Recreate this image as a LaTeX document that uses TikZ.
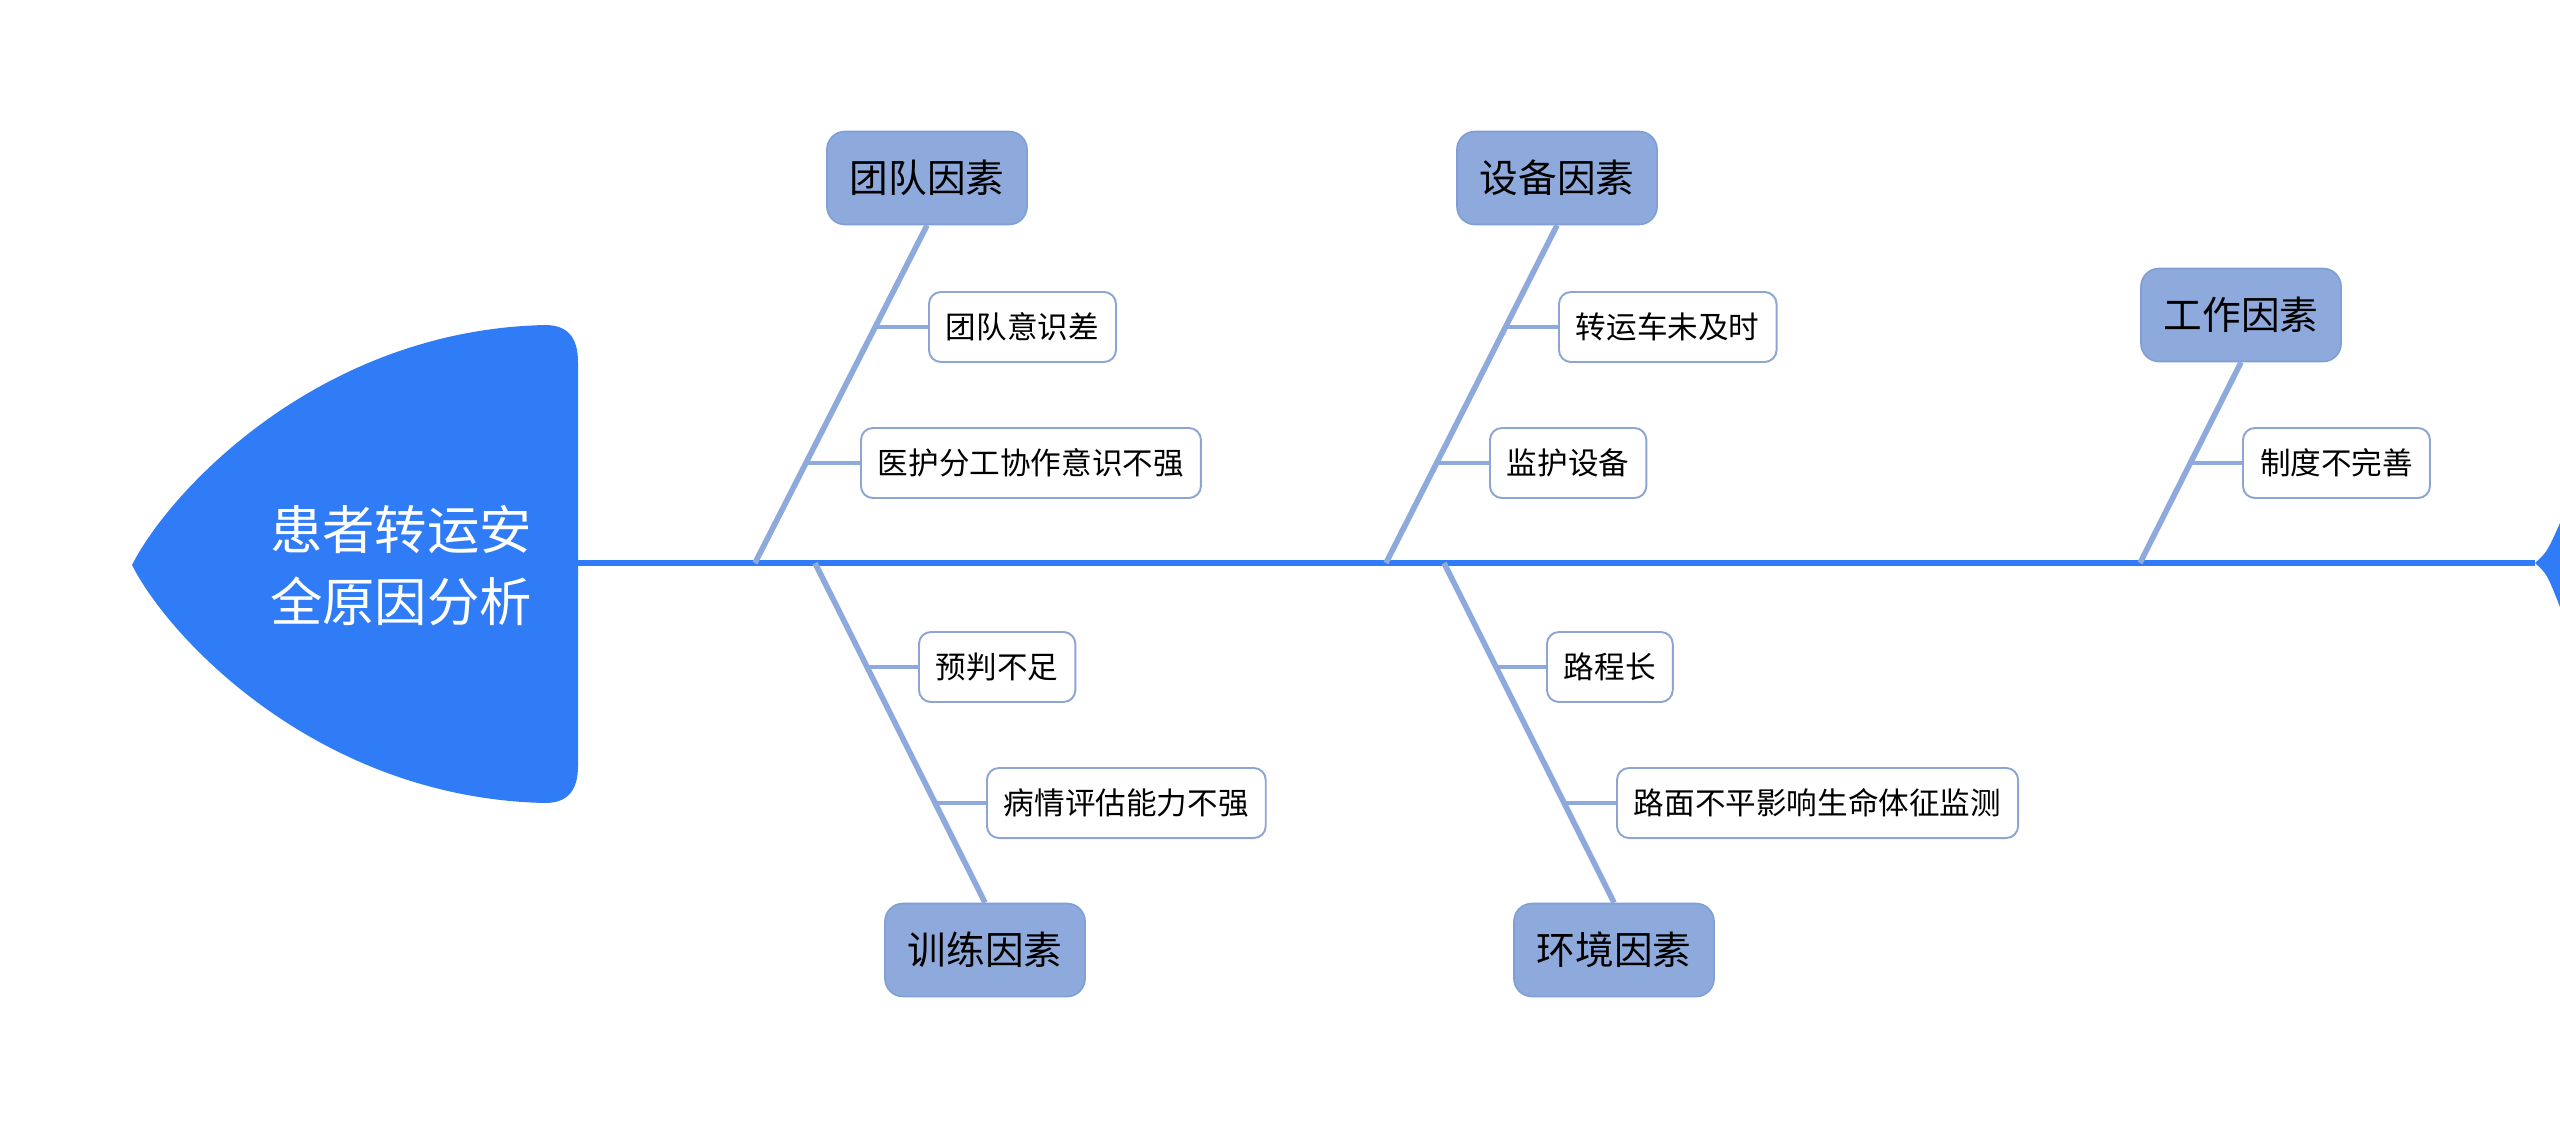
\documentclass[tikz,border=0pt]{standalone}
\usepackage{fontspec}
\setmainfont{Noto Sans CJK SC}
\usetikzlibrary{arrows.meta,positioning}
\definecolor{fishblue}{HTML}{2F7CF6}
\definecolor{bonecol}{HTML}{8EAADC}
\definecolor{boxedge}{HTML}{7F9ED6}
\definecolor{subedge}{HTML}{8CA5D3}

\begin{document}
\begin{tikzpicture}[x=0.01cm,y=-0.01cm,
  cause/.style={draw=boxedge,line width=0.45pt,fill=bonecol,rounded corners=0.18cm,
    minimum width=2cm,minimum height=0.93cm,font=\fontsize{11}{13}\selectfont},
  item/.style={draw=subedge,line width=0.55pt,fill=white,rounded corners=0.12cm,
    minimum height=0.70cm,inner xsep=0.17cm,anchor=west,font=\fontsize{8.7}{10}\selectfont},
  bone/.style={bonecol,line width=1.6pt},
  twig/.style={bonecol,line width=1.2pt}]
\useasboundingbox (0,0) rectangle (2560,1130);
\fill[fishblue] (132,565) .. controls (170,490) and (320,330) .. (545,325)
  .. controls (568,325) and (578,338) .. (578,362) -- (578,766)
  .. controls (578,790) and (568,803) .. (545,803)
  .. controls (320,798) and (170,640) .. (132,565) -- cycle;
\node[text=white,align=center,font=\fontsize{14.9}{20.5}\selectfont] (head) at (401,566) {患者转运安\\全原因分析};
\coordinate (spine-l) at (576,563);
\coordinate (spine-r) at (2535,563);
\draw[fishblue,line width=1.7pt] (spine-l) -- (spine-r);
\fill[fishblue] (spine-r) .. controls (2547,552) .. (2560,523) -- (2560,607)
  .. controls (2547,574) .. (spine-r) -- cycle;
\node[cause] (team) at (927,178) {团队因素};
\node[cause] (equip) at (1557,178) {设备因素};
\node[cause] (work) at (2241,315) {工作因素};
\node[cause] (train) at (985,950) {训练因素};
\node[cause] (env) at (1614,950) {环境因素};
\coordinate (team-s) at (755,563);
\coordinate (equip-s) at (1386,563);
\coordinate (work-s) at (2140,563);
\coordinate (train-s) at (815,563);
\coordinate (env-s) at (1444,563);
\foreach \c in {team,equip,work} {
  \draw[bone] (\c.south) -- (\c-s);
}
\foreach \c in {train,env} {
  \draw[bone] (\c.north) -- (\c-s);
}
\foreach \n/\x/\y/\j/\t in {team-a/928/327/875/团队意识差,team-b/860/463/806/医护分工协作意识不强,
    equip-a/1558/327/1505/转运车未及时,equip-b/1489/463/1437/监护设备,
    work-a/2242/463/2190/制度不完善,
    train-a/918/667/867/预判不足,train-b/986/803/935/病情评估能力不强,
    env-a/1546/667/1496/路程长,env-b/1616/803/1564/路面不平影响生命体征监测} {
  \coordinate (\n-j) at (\j,\y);
  \node[item] (\n) at (\x,\y) {\t};
  \draw[twig] (\n-j) -- (\n.west);
}
\end{tikzpicture}
\end{document}
